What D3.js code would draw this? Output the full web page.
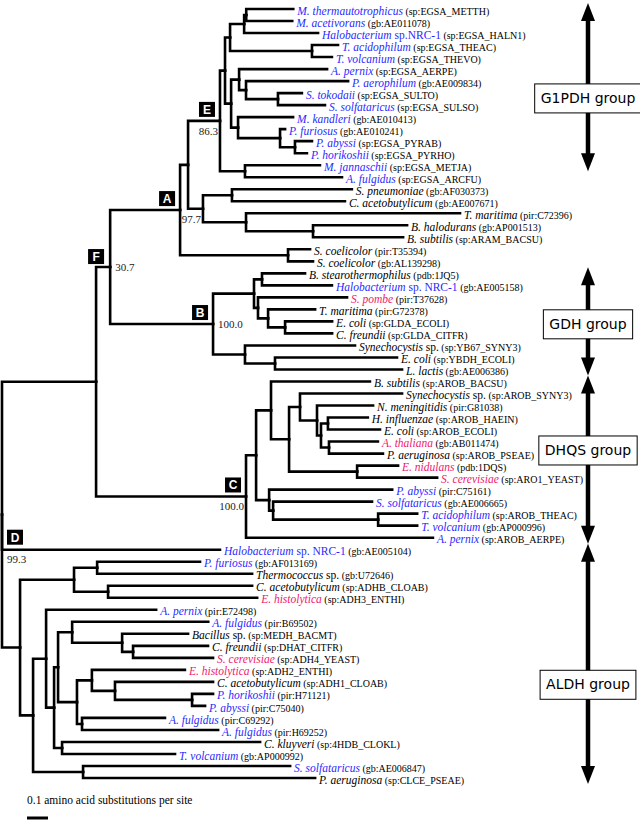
<!DOCTYPE html>
<html><head><meta charset="utf-8">
<script src="https://cdn.jsdelivr.net/npm/d3@7"></script>
<style>body{margin:0;background:#fff}</style>
</head><body>
<svg id="chart" width="640" height="822"></svg>
<script>
// ---------- data ----------
const taxa = ["M. thermautotrophicus","M. acetivorans","Halobacterium|sp.NRC-1","T. acidophilum","T. volcanium","A. pernix","P. aerophilum","S. tokodaii","S. solfataricus","M. kandleri","P. furiosus","P. abyssi","P. horikoshii","M. jannaschii","A. fulgidus","S. pneumoniae","C. acetobutylicum","T. maritima","B. halodurans","B. subtilis","S. coelicolor","S. coelicolor","B. stearothermophilus","Halobacterium|sp. NRC-1","S. pombe","T. maritima","E. coli","C. freundii","Synechocystis|sp.","E. coli","L. lactis","B. subtilis","Synechocystis|sp.","N. meningitidis","H. influenzae","E. coli","A. thaliana","P. aeruginosa","E. nidulans","S. cerevisiae","P. abyssi","S. solfataricus","T. acidophilum","T. volcanium","A. pernix","Halobacterium|sp. NRC-1","P. furiosus","Thermococcus|sp.","C. acetobutylicum","E. histolytica","A. pernix","A. fulgidus","Bacillus|sp.","C. freundii","S. cerevisiae","E. histolytica","C. acetobutylicum","P. horikoshii","P. abyssi","A. fulgidus","A. fulgidus","C. kluyveri","T. volcanium","S. solfataricus","P. aeruginosa"];
const accessions = ["sp:EGSA_METTH","gb:AE011078","sp:EGSA_HALN1","sp:EGSA_THEAC","sp:EGSA_THEVO","sp:EGSA_AERPE","gb:AE009834","sp:EGSA_SULTO","sp:EGSA_SULSO","gb:AE010413","gb:AE010241","sp:EGSA_PYRAB","sp:EGSA_PYRHO","sp:EGSA_METJA","sp:EGSA_ARCFU","gb:AF030373","gb:AE007671","pir:C72396","gb:AP001513","sp:ARAM_BACSU","pir:T35394","gb:AL139298","pdb:1JQ5","gb:AE005158","pir:T37628","pir:G72378","sp:GLDA_ECOLI","sp:GLDA_CITFR","sp:YB67_SYNY3","sp:YBDH_ECOLI","gb:AE006386","sp:AROB_BACSU","sp:AROB_SYNY3","pir:G81038","sp:AROB_HAEIN","sp:AROB_ECOLI","gb:AB011474","sp:AROB_PSEAE","pdb:1DQS","sp:ARO1_YEAST","pir:C75161","gb:AE006665","sp:AROB_THEAC","gb:AP000996","sp:AROB_AERPE","gb:AE005104","gb:AF013169","gb:U72646","sp:ADHB_CLOAB","sp:ADH3_ENTHI","pir:E72498","pir:B69502","sp:MEDH_BACMT","sp:DHAT_CITFR","sp:ADH4_YEAST","sp:ADH2_ENTHI","sp:ADH1_CLOAB","pir:H71121","pir:C75040","pir:C69292","pir:H69252","sp:4HDB_CLOKL","gb:AP000992","gb:AE006847","sp:CLCE_PSEAE"];
// A = archaea (blue), E = eukaryota (pink), B = bacteria (black)
const domains = ["A","A","A","A","A","A","A","A","A","A","A","A","A","A","A",
  "B","B","B","B","B","B","B","B","A","E","B","B","B","B","B","B",
  "B","B","B","B","B","E","B","E","E","A","A","A","A","A",
  "A","A","B","B","E","A","A","B","B","E","E","B","A","A","A","A","B","A","A","B"];

// tree topology with branch lengths (substitutions per site), Newick pieces
const cladeE = "(((((L1:0.224,L2:0.219)Na:0.010,L3:0.352)Nb:0.067,(L4:0.124,L5:0.095)N312:0.390)N230:0.024,((L6:0.419,(L7:0.486,(L8:0.114,L9:0.224)N278:0.152)N246:0.033)N239:0.038,(L10:0.262,(L11:0.024,(L12:0.081,L13:0.057)N295:0.071)N280:0.200)N238:0.033)N231:0.029)N225:0.024,(L14:0.357,L15:0.462)N245:0.119)E";
const clade203 = "((L16:0.571,L17:0.538)N232:0.138,(L18:1.019,(L19:0.448,L20:0.429)N313:0.319)N246b:0.205)N203";
const cladeA = "((" + cladeE + ":0.152," + clade203 + ":0.071)X1:0.038,(L21:0.105,L22:0.119)Scoel:0.514)A";
const cladeB = "(((L23:0.205,L24:0.333)N262:0.038,(L25:0.424,(L26:0.224,(L27:0.224,L28:0.224)N285:0.081)N268:0.048)N258:0.019)Nup:0.195,(L29:0.524,(L30:0.581,L31:0.605)N275:0.143)N245c:0.152)B";
const cladeC = "(((L32:0.471,((L33:0.486,(L34:0.267,((L35:0.190,L36:0.248)N328:0.033,(L37:0.233,L38:0.257)N329:0.038)N321:0.019)N317:0.081)N300:0.052,(L39:0.195,L40:0.381)N357:0.324)N289:0.086)N271:0.071,(L41:0.586,(L42:0.471,(L43:0.186,L44:0.186)N378:0.500)N273:0.019)N269:0.062)N256:0.048,L45:0.890)C";
const cladeALDH = "(((L47:0.490,L48:0.738)N97:0.110,(L49:0.686,L50:0.710)N108:0.162)N74:0.257,((L51:0.524,(((L52:0.648,(L53:0.314,(L54:0.357,L55:0.381)N133:0.052)N122:0.238)N72:0.067,((L56:0.443,(L57:0.467,(L58:0.100,L59:0.062)N192:0.367)N115:0.110)N92:0.071,(L60:0.395,L61:0.648)N82:0.024)N77:0.090)N58:0.019,(L62:0.943,L63:0.538)N62:0.038)N54:0.038)N46:0.062,(L64:0.986,L65:1.105)N83:0.238)N33:0.062)N20";
const newick = "(((" + cladeA + ":0.333," + cladeB + ":0.490)N30:0.067," + cladeC + ":0.714)F:0.448,L46:1.038," + cladeALDH + ":0.086)root;";

const bootNodes  = ["N30","E","N203","B","C","L46"];
const bootValues = ["30.7","86.3","97.7","100.0","100.0","99.3"];
const cladeLetters = ["A","B","C","D","E","F"];
const cladeNodes   = ["A","B","C","L46","E","N30"];
const groupNames = ["G1PDH group","GDH group","DHQS group","ALDH group"];
const groupFirst = [1, 23, 32, 46];
const groupLast  = [14, 31, 45, 65];
const groupLabelAt = [8.4, 27.2, 37.7, 57.2];   // leaf rank where each group box sits
const scaleBarValue = 0.1;
const scaleBarText = "0.1 amino acid substitutions per site";

// ---------- parse ----------
function parseNewick(s) {
  let i = 0;
  function node() {
    const n = {};
    if (s[i] === "(") {
      i++; n.children = [node()];
      while (s[i] === ",") { i++; n.children.push(node()); }
      i++;
    }
    let name = "";
    while (i < s.length && !",():;".includes(s[i])) name += s[i++];
    n.name = name;
    n.length = 0;
    if (s[i] === ":") { i++; let num = ""; while (i < s.length && !",();".includes(s[i])) num += s[i++]; n.length = +num; }
    return n;
  }
  return node();
}

const root = d3.hierarchy(parseNewick(newick));
root.eachBefore(d => { d.dist = d.parent ? d.parent.dist + d.data.length : 0; });

const xScale = d3.scaleLinear().domain([0, 1]).range([2, 212]);
const yScale = d3.scaleLinear().domain([1, 65]).range([9, 778]);

root.eachAfter(d => {
  d.px = xScale(d.dist);
  if (d.children) {
    d.py = (d.children[0].py + d.children[d.children.length - 1].py) / 2;
  } else {
    d.idx = +d.data.name.slice(1);
    d.py = yScale(d.idx);
  }
});
const byName = {};
root.each(d => byName[d.data.name] = d);

const svg = d3.select("#chart");
const serif = "'Liberation Serif','Times New Roman',serif";
const colorOf = {A: "#2a2aff", E: "#f0186e", B: "#000"};

// ---------- branches ----------
svg.append("g").selectAll("path").data(root.links()).join("path")
  .attr("d", l => `M${l.source.px},${l.source.py}V${l.target.py}H${l.target.px}`)
  .attr("fill", "none").attr("stroke", "#000").attr("stroke-width", 2.6)
  .attr("stroke-linecap", "square").attr("stroke-linejoin", "miter");

// ---------- leaf labels ----------
const labels = svg.append("g").attr("font-family", serif);
root.leaves().forEach(d => {
  const i = d.idx - 1;
  const [sp, suf] = taxa[i].split("|");
  const t = labels.append("text").attr("x", d.px + 4).attr("y", d.py).attr("dy", "0.35em");
  t.append("tspan").attr("font-style", "italic").attr("font-size", 11.5).attr("fill", colorOf[domains[i]]).text(sp);
  if (suf) t.append("tspan").attr("font-size", 11.5).attr("fill", colorOf[domains[i]]).text(" " + suf);
  t.append("tspan").attr("font-size", 10).attr("fill", "#000").text(" (" + accessions[i] + ")");
});

// ---------- bootstrap values ----------
const boot = svg.append("g").attr("font-family", serif).attr("font-size", 11).attr("fill", "#222");
bootNodes.forEach((nm, k) => {
  const d = byName[nm];
  let x, y, anchor;
  if (nm === "N30" || nm === "B") { x = d.px + 5; y = d.py + 3.5; anchor = "start"; }
  else if (nm === "L46") { x = d.parent.px + 5; y = d.py + 13; anchor = "start"; }
  else { x = d.px - 2; y = d.py + 14; anchor = "end"; }
  boot.append("text").attr("x", x).attr("y", y).attr("text-anchor", anchor).text(bootValues[k]);
});

// ---------- clade letter boxes ----------
const cl = svg.append("g");
cladeLetters.forEach((L, k) => {
  const d = byName[cladeNodes[k]];
  const w = 16, h = 15;
  let x0, y0;
  if (cladeNodes[k] === "N30") { x0 = d.parent.px - w / 2; y0 = d.py - 3 - h; }
  else if (cladeNodes[k] === "L46") { x0 = d.parent.px + 5; y0 = d.py - 5 - h; }
  else { x0 = d.px - 5 - w; y0 = d.py - 4 - h; }
  cl.append("rect").attr("x", x0).attr("y", y0).attr("width", w).attr("height", h).attr("fill", "#000");
  cl.append("text").attr("x", x0 + w / 2).attr("y", y0 + h / 2).attr("dy", "0.36em")
    .attr("text-anchor", "middle").attr("fill", "#fff").attr("font-weight", "bold")
    .attr("font-family", "'Liberation Sans',Arial,sans-serif").attr("font-size", 12).text(L);
});

// ---------- group arrows ----------
const ax = 588, pad = 6, headH = 18, headW = 7;
const grp = svg.append("g");
groupNames.forEach((name, k) => {
  const y1 = yScale(groupFirst[k]) - pad, y2 = yScale(groupLast[k]) + pad;
  grp.append("line").attr("x1", ax).attr("x2", ax).attr("y1", y1 + headH - 2).attr("y2", y2 - headH + 2)
    .attr("stroke", "#000").attr("stroke-width", 4.5);
  grp.append("path").attr("d", `M${ax},${y1}L${ax - headW},${y1 + headH}L${ax + headW},${y1 + headH}Z`).attr("fill", "#000");
  grp.append("path").attr("d", `M${ax},${y2}L${ax - headW},${y2 - headH}L${ax + headW},${y2 - headH}Z`).attr("fill", "#000");
  const my = yScale(groupLabelAt[k]);
  const r = grp.append("rect").attr("fill", "#fff").attr("stroke", "#000").attr("stroke-width", 1);
  const t = grp.append("text").attr("x", ax).attr("y", my).attr("dy", "0.36em").attr("text-anchor", "middle")
    .attr("font-family", "'DejaVu Sans',sans-serif").attr("font-size", 14).text(name);
  const tw = t.node().getComputedTextLength();
  r.attr("x", ax - tw / 2 - 6).attr("y", my - 14).attr("width", tw + 12).attr("height", 29);
});

// ---------- scale bar ----------
svg.append("text").attr("x", 27).attr("y", 804).attr("font-family", serif).attr("font-size", 11.5).text(scaleBarText);
svg.append("line").attr("x1", 27).attr("x2", 27 + xScale(scaleBarValue) - xScale(0)).attr("y1", 818).attr("y2", 818)
  .attr("stroke", "#000").attr("stroke-width", 3);
</script>
</body></html>
